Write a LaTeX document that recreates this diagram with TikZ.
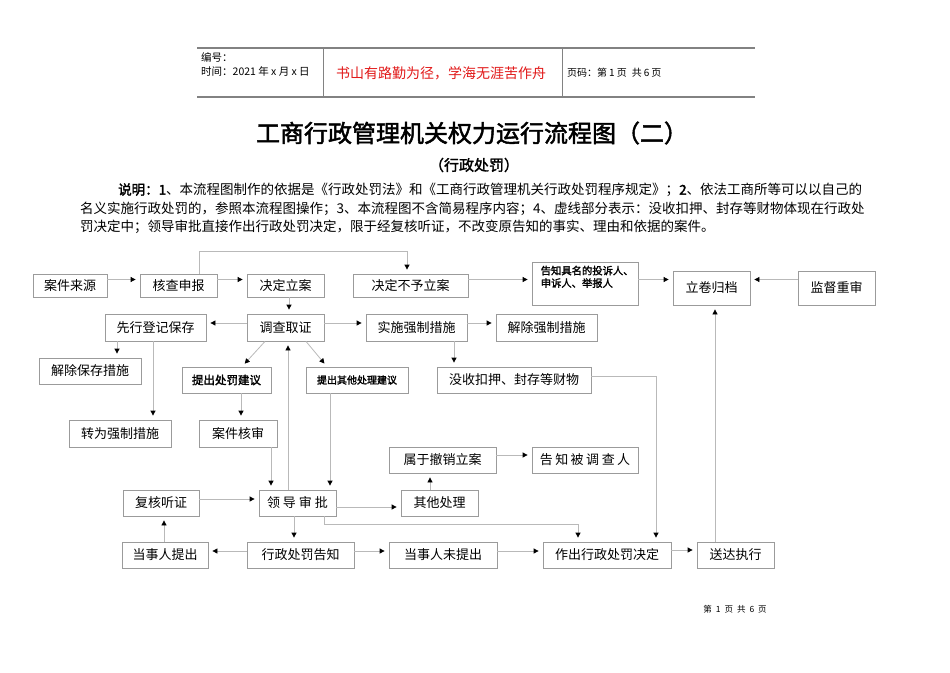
\documentclass[tikz,border=0pt]{standalone}
\usepackage{fontspec}
\setmainfont{Noto Sans CJK SC}[AutoFakeBold=2]
\usepackage{tikz}
\usepackage{xcolor}
\usetikzlibrary{
    arrows.meta,
    calc,
    positioning
}
\XeTeXlinebreaklocale "zh"
\XeTeXlinebreakskip=0pt plus 2pt
\definecolor{boxgray}{RGB}{155,155,155}
\definecolor{linegray}{RGB}{185,185,185}
\definecolor{headgray}{RGB}{130,130,130}
\definecolor{mottored}{RGB}{225,25,25}
\newcommand{\desctext}{\fontsize{13.5}{16}\selectfont}
\tikzset{
    box/.style={draw=boxgray, line width=0.8pt, inner sep=0pt, font=\fontsize{13}{15}\selectfont},
    conn/.style={draw=linegray, line width=0.8pt},
    arr/.style={conn, -{Triangle[length=5pt,width=5pt,color=black]}, shorten >=4pt},
    headline/.style={draw=headgray, line width=1.3pt},
    headsep/.style={draw=headgray, line width=0.8pt}
}

\begin{document}
\begin{tikzpicture}[x=1pt, y=-1pt]
                        \useasboundingbox (0,0) rectangle (950,672);
                        \draw[headline] (197,48) -- (755,48);
                        \draw[headline] (197,97) -- (755,97);
                        \draw[headsep] (323,48) -- (323,97);
                        \draw[headsep] (562,48) -- (562,97);
                        \node[anchor=west, inner sep=0pt, font=\fontsize{10.5}{12}\selectfont] (bianhao) at (201,57) {编号：};
                        \node[anchor=west, inner sep=0pt, font=\fontsize{10.5}{12}\selectfont] (shijian) at (201,71) {时间：2021 年 x 月 x 日};
                        \node[text=mottored, font=\fontsize{14}{16}\selectfont] (motto) at (441,73) {书山有路勤为径，学海无涯苦作舟};
                        \node[anchor=west, inner sep=0pt, font=\fontsize{10}{12}\selectfont] (yema) at (567,73) {页码：第\hspace{2pt}1\hspace{2pt}页\hspace{5pt}共\hspace{2pt}6\hspace{2pt}页};
                        \node[font=\fontsize{24}{28}\selectfont\bfseries] (title) at (472,133) {工商行政管理机关权力运行流程图（二）};
                        \node[font=\fontsize{15}{18}\selectfont\bfseries] (subtitle) at (474,165) {（行政处罚）};
                        \node[anchor=west, inner sep=0pt, font=\desctext] (shuoming1) at (118,190) {\makebox[752pt][s]{\textbf{说明：1}、本流程图制作的依据是《行政处罚法》和《工商行政管理机关行政处罚程序规定》；\textbf{2}、依法工商所等可以以自己的}};
                        \node[anchor=west, inner sep=0pt, font=\desctext] (shuoming2) at (80,209) {\makebox[790pt][s]{名义实施行政处罚的，参照本流程图操作；3、本流程图不含简易程序内容；4、虚线部分表示：没收扣押、封存等财物体现在行政处}};
                        \node[anchor=west, inner sep=0pt, font=\desctext] (shuoming3) at (80,227) {罚决定中；领导审批直接作出行政处罚决定，限于经复核听证，不改变原告知的事实、理由和依据的案件。};
                        \node[box, minimum width=74pt, minimum height=23pt] (ajly) at (70,285.5) {案件来源};
                        \node[box, minimum width=77pt, minimum height=23pt] (hcsb) at (178.5,285.5) {核查申报};
                        \node[box, minimum width=77pt, minimum height=23pt] (jdla) at (285.5,285.5) {决定立案};
                        \node[box, minimum width=115pt, minimum height=23pt] (jdbyla) at (410.5,285.5) {决定不予立案};
                        \node[box, minimum width=106pt, minimum height=43pt] (gzjm) at (585,283.5) {};
                        \node[anchor=north west, inner sep=0pt, align=left, font=\fontsize{10.3}{12.5}\selectfont\bfseries] (gzjmtext) at ([xshift=9pt,yshift=-4pt]gzjm.north west) {告知具名的投诉人、\\申诉人、举报人};
                        \node[box, minimum width=77pt, minimum height=34pt] (ljgd) at (711.5,288) {立卷归档};
                        \node[box, minimum width=77pt, minimum height=34pt] (jdcs) at (836.5,288) {监督重审};
                        \node[box, minimum width=101pt, minimum height=27pt] (xxdj) at (155.5,327.5) {先行登记保存};
                        \node[box, minimum width=77pt, minimum height=27pt] (dcqz) at (285.5,327.5) {调查取证};
                        \node[box, minimum width=101pt, minimum height=27pt] (sqqz) at (416.5,327.5) {实施强制措施};
                        \node[box, minimum width=101pt, minimum height=27pt] (jcqz) at (546.5,327.5) {解除强制措施};
                        \node[box, minimum width=102pt, minimum height=26pt] (jcbc) at (90,371) {解除保存措施};
                        \node[box, minimum width=89pt, minimum height=26pt, font=\fontsize{11.5}{14}\selectfont\bfseries] (tccf) at (226.5,380) {提出处罚建议};
                        \node[box, minimum width=102pt, minimum height=26pt, font=\fontsize{10}{12}\selectfont\bfseries] (tcqt) at (357,380) {提出其他处理建议};
                        \node[box, minimum width=154pt, minimum height=26pt] (mskq) at (514,380) {没收扣押、封存等财物};
                        \node[box, minimum width=102pt, minimum height=27pt] (zwqz) at (120,433.5) {转为强制措施};
                        \node[box, minimum width=78pt, minimum height=27pt] (ajhs) at (238,433.5) {案件核审};
                        \node[box, minimum width=107pt, minimum height=26pt] (sycx) at (442.5,460) {属于撤销立案};
                        \node[box, minimum width=106pt, minimum height=26pt] (gzbdc) at (585,460) {告\hspace{2.5pt}知\hspace{2.5pt}被\hspace{2.5pt}调\hspace{2.5pt}查\hspace{2.5pt}人};
                        \node[box, minimum width=76pt, minimum height=26pt] (fhtz) at (161,503) {复核听证};
                        \node[box, minimum width=77pt, minimum height=26pt] (ldsp) at (297.5,503) {领\hspace{3pt}导\hspace{3pt}审\hspace{3pt}批};
                        \node[box, minimum width=77pt, minimum height=26pt] (qtcl) at (439.5,503) {其他处理};
                        \node[box, minimum width=86pt, minimum height=26pt] (dsrtc) at (165,555) {当事人提出};
                        \node[box, minimum width=107pt, minimum height=26pt] (xzcfgz) at (300.5,555) {行政处罚告知};
                        \node[box, minimum width=108pt, minimum height=26pt] (dsrwtc) at (443,555) {当事人未提出};
                        \node[box, minimum width=128pt, minimum height=26pt] (zcjd) at (607,555) {作出行政处罚决定};
                        \node[box, minimum width=77pt, minimum height=26pt] (sdzx) at (735.5,555) {送达执行};
                        \node[font=\fontsize{8.5}{10}\selectfont] (yeshu) at (735,609) {第\hspace{4pt}1\hspace{4pt}页\hspace{4pt}共\hspace{4pt}6\hspace{4pt}页};
                        \draw[arr] ([yshift=6pt]ajly.east) -- ([yshift=6pt]hcsb.west);
                        \draw[arr] ([yshift=6pt]hcsb.east) -- ([yshift=6pt]jdla.west);
                        \draw[arr] ([xshift=20.5pt]hcsb.north) -- ++(0,-22) -| ([xshift=-3.5pt]jdbyla.north);
                        \draw[arr] ([yshift=6pt]jdbyla.east) -- ([yshift=4pt]gzjm.west);
                        \draw[arr] ([yshift=4pt]gzjm.east) -- ([yshift=8.5pt]ljgd.west);
                        \draw[arr] ([yshift=8.5pt]jdcs.west) -- ([yshift=8.5pt]ljgd.east);
                        \draw[arr] ([xshift=3.5pt]jdla.south) -- ([xshift=3.5pt]dcqz.north);
                        \draw[arr] ([yshift=4.5pt]dcqz.west) -- ([yshift=4.5pt]xxdj.east);
                        \draw[arr] ([yshift=4.5pt]dcqz.east) -- ([yshift=4.5pt]sqqz.west);
                        \draw[arr] ([yshift=4.5pt]sqqz.east) -- ([yshift=4.5pt]jcqz.west);
                        \draw[arr] ([xshift=-38.5pt]xxdj.south) -- ([xshift=27pt]jcbc.north);
                        \draw[arr] ([xshift=-2.5pt]xxdj.south) -- ([xshift=33pt]zwqz.north);
                        \draw[arr] ([xshift=-20.5pt]dcqz.south) -- ([xshift=15.5pt]tccf.north);
                        \draw[arr] ([xshift=20.5pt]dcqz.south) -- ([xshift=-30pt]tcqt.north);
                        \draw[arr] ([xshift=14.5pt]tccf.south) -- ([xshift=3pt]ajhs.north);
                        \draw[arr] ([xshift=33pt]ajhs.south) -- ([xshift=-26.5pt]ldsp.north);
                        \draw[arr] ([xshift=-27pt]tcqt.south) -- ([xshift=32.5pt]ldsp.north);
                        \draw[arr] ([xshift=-9.5pt]ldsp.north) -- ([xshift=2.5pt]dcqz.south);
                        \draw[arr] ([xshift=37.5pt]sqqz.south) -- ([xshift=-60pt]mskq.north);
                        \draw[arr] ([yshift=4pt]mskq.east) -| ([xshift=49pt]zcjd.north);
                        \draw[arr] ([yshift=4pt]fhtz.east) -- ([yshift=4pt]ldsp.west);
                        \draw[arr] ([yshift=-4pt]ldsp.east) -- ([yshift=-4pt]qtcl.west);
                        \draw[arr] ([xshift=-9.5pt]qtcl.north) -- ([xshift=-12.5pt]sycx.south);
                        \draw[arr] ([yshift=5pt]sycx.east) -- ([yshift=5pt]gzbdc.west);
                        \draw[arr] ([xshift=26.5pt]ldsp.south) -- ++(0,8) -| ([xshift=-29pt]zcjd.north);
                        \draw[arr] ([xshift=-3.5pt]ldsp.south) -- ([xshift=-6.5pt]xzcfgz.north);
                        \draw[arr] ([yshift=4pt]xzcfgz.west) -- ([yshift=4pt]dsrtc.east);
                        \draw[arr] ([xshift=-1pt]dsrtc.north) -- ([xshift=3pt]fhtz.south);
                        \draw[arr] ([yshift=4pt]xzcfgz.east) -- ([yshift=4pt]dsrwtc.west);
                        \draw[arr] ([yshift=4pt]dsrwtc.east) -- ([yshift=4pt]zcjd.west);
                        \draw[arr] ([yshift=5pt]zcjd.east) -- ([yshift=5pt]sdzx.west);
                        \draw[arr] ([xshift=-20.5pt]sdzx.north) -- ([xshift=3.5pt]ljgd.south);
\end{tikzpicture}
\end{document}
